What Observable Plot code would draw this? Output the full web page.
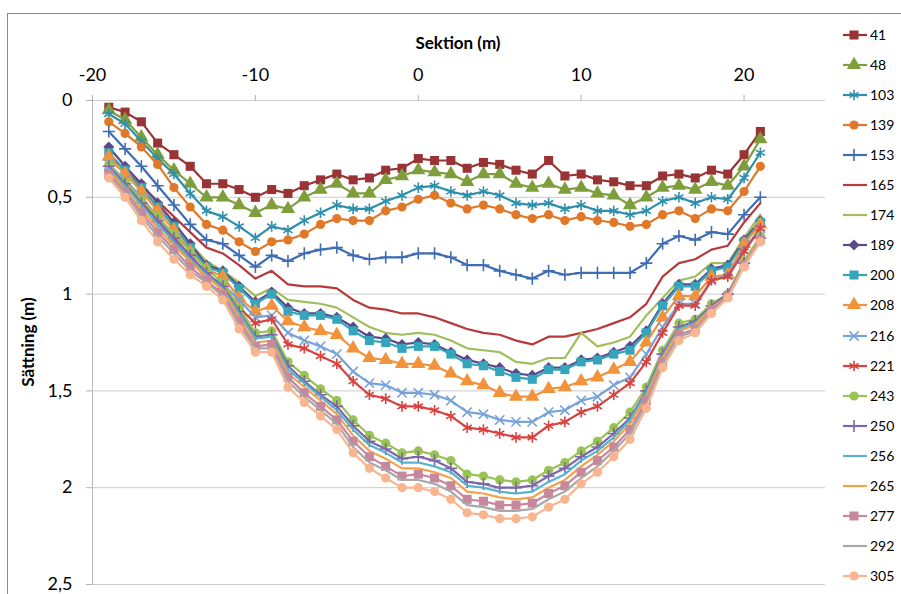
<!DOCTYPE html>
<html><head><meta charset="utf-8">
<script src="https://cdn.jsdelivr.net/npm/d3@7"></script>
<script src="https://cdn.jsdelivr.net/npm/@observablehq/plot@0.6"></script>
<style>
body{margin:0;background:#fff;font-family:Lato,"Open Sans",sans-serif;}
#wrap{position:relative;width:901px;height:594px;overflow:hidden;background:#fff;}
#frame{position:absolute;left:7px;top:13px;width:900px;height:600px;border:1px solid #8a8a8a;box-sizing:border-box;}
#plot{position:absolute;left:0;top:0;}
#xt{position:absolute;left:358px;top:33px;width:200px;height:20px;line-height:20px;text-align:center;font-weight:bold;font-size:17px;color:#000;}
#yt{position:absolute;left:-72px;top:332px;width:200px;height:20px;line-height:20px;text-align:center;font-weight:bold;font-size:17px;color:#000;transform:rotate(-90deg);}
.li{position:absolute;left:840px;height:18px;font-size:14px;line-height:18px;color:#000;}
.li svg{position:absolute;left:0;top:0;}
.li span{position:absolute;left:30px;top:0;}
</style></head>
<body>
<div id="wrap">
  <div id="frame"></div>
  <div id="plot"></div>
  <div id="xt">Sektion (m)</div>
  <div id="yt">Sättning (m)</div>
  <div id="legend"></div>
</div>
<script>
const sections = [-19,-18,-17,-16,-15,-14,-13,-12,-11,-10,-9,-8,-7,-6,-5,-4,-3,-2,-1,0,1,2,3,4,5,6,7,8,9,10,11,12,13,14,15,16,17,18,19,20,21];
const xTicks = [-20,-10,0,10,20];
const yTicks = [0,0.5,1,1.5,2,2.5];
const seriesNames = ["41","48","103","139","153","165","174","189","200","208","216","221","243","250","256","265","277","292","305"];

const s41  = [.035,.06,.11,.22,.28,.34,.43,.43,.46,.50,.46,.48, .44,.41,.38,.41,.40,.36,.35,.30,.31,.31,.35,.32,.33,.36,.38,.31,.39, .38,.41,.42,.44,.44,.39,.38,.40,.36,.38,.28,.16];
const s48  = [.05,.10,.19,.28,.36,.43,.50,.50,.54,.58,.54,.56, .50,.46,.43,.48,.48,.41,.39,.36,.37,.38,.42,.38,.38,.43,.45,.43,.46, .45,.48,.49,.54,.50,.45,.44,.46,.42,.44,.34,.20];
const s103 = [.07,.12,.21,.30,.38,.48,.57,.60,.65,.71,.65,.67, .62,.58,.54,.56,.56,.52,.49,.45,.44,.47,.49,.47,.49,.53,.54,.53,.56, .54,.57,.57,.59,.57,.52,.50,.53,.50,.51,.40,.27];
const s139 = [.11,.17,.24,.33,.45,.55,.64,.67,.73,.78,.73,.72, .69,.64,.61,.62,.62,.57,.55,.51,.49,.53,.56,.54,.56,.59,.61,.59,.62, .60,.62,.63,.65,.64,.59,.57,.61,.56,.57,.47,.34];
const s153 = [.16,.25,.34,.44,.54,.64,.72,.74,.80,.86,.80,.83, .79,.77,.76,.80,.82,.81,.81,.79,.79,.81,.85,.85,.88,.90,.92,.88,.90, .89,.89,.89,.89,.84,.74,.70,.72,.68,.69,.59,.50];
const s165 = [.28,.36,.44,.52,.60,.68,.76,.79,.85,.92,.88,.95, .96,.96,.97,1.03,1.07,1.08,1.10,1.10,1.12,1.15,1.18,1.20,1.21,1.24,1.26,1.22,1.22, 1.20,1.18,1.15,1.12,1.05,.91,.84,.82,.77,.75,.63,.53];
const s174 = [.30,.38,.46,.55,.64,.74,.83,.88,.94,1.01,.97,1.03, 1.04,1.05,1.07,1.12,1.17,1.20,1.21,1.20,1.21,1.24,1.28,1.29,1.30,1.35,1.36,1.33,1.33, 1.20,1.27,1.25,1.22,1.11,1.02,.93,.91,.84,.84,.71,.59];
const s189 = [.24,.34,.43,.53,.63,.74,.85,.88,.96,1.04,.99,1.07, 1.10,1.10,1.12,1.17,1.22,1.23,1.26,1.25,1.26,1.30,1.34,1.36,1.38,1.41,1.42,1.38,1.38, 1.34,1.33,1.30,1.27,1.19,1.05,.95,.95,.87,.85,.72,.62];
const s200 = [.27,.36,.45,.55,.65,.76,.86,.89,.97,1.05,1.00,1.09, 1.11,1.11,1.13,1.19,1.24,1.25,1.28,1.27,1.27,1.31,1.36,1.37,1.40,1.43,1.44,1.39,1.39, 1.35,1.34,1.31,1.29,1.20,1.06,.96,.96,.88,.86,.73,.63];
const s208 = [.29,.38,.47,.57,.67,.78,.87,.91,1.02,1.09,1.06,1.14, 1.17,1.19,1.21,1.28,1.33,1.34,1.36,1.36,1.37,1.41,1.45,1.47,1.51,1.53,1.53,1.49,1.48, 1.45,1.43,1.39,1.35,1.25,1.12,1.01,1.01,.91,.90,.74,.64];
const s216 = [.33,.41,.50,.60,.70,.81,.90,.95,1.03,1.12,1.11,1.20, 1.24,1.27,1.31,1.40,1.46,1.47,1.51,1.51,1.52,1.55,1.61,1.62,1.65,1.66,1.66,1.61,1.60, 1.55,1.53,1.47,1.43,1.31,1.17,1.05,1.05,.93,.90,.77,.66];
const s221 = [.35,.43,.52,.62,.72,.83,.91,.96,1.07,1.15,1.13,1.26, 1.28,1.32,1.36,1.45,1.52,1.54,1.58,1.58,1.60,1.63,1.69,1.70,1.72,1.74,1.74,1.68,1.66, 1.61,1.58,1.52,1.46,1.35,1.20,1.06,1.06,.93,.91,.78,.66];
const s243 = [.33,.42,.51,.60,.69,.78,.87,.94,1.07,1.20,1.19,1.35,1.42,1.49,1.55,1.65,1.73,1.77,1.82,1.81,1.83,1.86,1.93,1.94,1.96,1.97,1.96,1.91,1.87,1.81,1.76,1.69,1.61,1.48,1.29,1.15,1.13,1.05,1.00,.83,.70];
const s250 = [.34,.43,.53,.62,.71,.80,.89,.96,1.09,1.22,1.21,1.37,1.45,1.52,1.58,1.68,1.76,1.80,1.85,1.84,1.86,1.90,1.97,1.98,2.00,2.00,1.99,1.94,1.90,1.84,1.79,1.72,1.64,1.50,1.31,1.17,1.14,1.06,1.00,.84,.71];
const s256 = [.35,.44,.54,.64,.73,.82,.90,.97,1.10,1.23,1.22,1.39,1.46,1.53,1.60,1.70,1.78,1.82,1.87,1.87,1.89,1.92,1.99,2.00,2.02,2.03,2.02,1.97,1.93,1.86,1.81,1.74,1.65,1.51,1.32,1.18,1.15,1.07,1.01,.84,.71];
const s265 = [.36,.46,.56,.66,.75,.83,.91,.98,1.12,1.25,1.24,1.41,1.48,1.55,1.62,1.73,1.81,1.85,1.90,1.90,1.92,1.95,2.02,2.03,2.05,2.06,2.05,2.00,1.96,1.89,1.83,1.76,1.67,1.53,1.33,1.19,1.16,1.07,1.01,.84,.71];
const s277 = [.38,.47,.58,.68,.77,.86,.93,1.00,1.14,1.27,1.26,1.43,1.51,1.58,1.65,1.76,1.84,1.89,1.94,1.93,1.95,1.99,2.06,2.07,2.09,2.09,2.08,2.03,1.99,1.92,1.86,1.79,1.70,1.55,1.35,1.21,1.18,1.08,1.01,.85,.72];
const s292 = [.39,.48,.60,.70,.79,.88,.94,1.01,1.16,1.28,1.28,1.45,1.53,1.60,1.67,1.79,1.87,1.91,1.96,1.96,1.98,2.02,2.09,2.10,2.12,2.12,2.11,2.06,2.02,1.95,1.89,1.81,1.72,1.57,1.36,1.22,1.19,1.09,1.02,.85,.72];
const s305 = [.40,.50,.62,.73,.82,.90,.96,1.03,1.18,1.30,1.30,1.48,1.56,1.63,1.70,1.82,1.90,1.95,2.00,2.00,2.02,2.06,2.13,2.14,2.16,2.16,2.15,2.10,2.06,1.98,1.92,1.84,1.75,1.59,1.38,1.24,1.20,1.10,1.02,.86,.73];

const seriesValues = [s41,s48,s103,s139,s153,s165,s174,s189,s200,s208,s216,s221,s243,s250,s256,s265,s277,s292,s305];
const seriesColors = ["#993335","#7E9E3C","#2F90AC","#E0782A","#3E6DB4","#B63A3A","#A0BE5C","#5A4A8A","#35A5BC","#F2923A","#78A2DA","#D8423F","#99C353","#7D66AA","#52B5CC","#F7A04A","#C7889E","#A8A8A8","#F9B590"];
const seriesSymbols = ["square","triangle","asterisk","circle","plus",null,null,"diamond2","square","triangle","times","asterisk","circle","plus",null,null,"square",null,"circle"];
const symbolR = {square:5.1, triangle:5.3, asterisk:5, circle:4.6, plus:4, diamond2:5, times:4.3};
const strokeSymbols = new Set(["asterisk","plus","times"]);

const marks = [];
marks.push(Plot.ruleY(yTicks, {stroke:"#cccccc", strokeWidth:1}));
marks.push(Plot.ruleX([-20], {stroke:"#bdbdbd", strokeWidth:1}));
marks.push(Plot.axisX({anchor:"top", ticks:xTicks, tickSize:6, tickPadding:14, stroke:"#b0b0b0", label:null,
  tickFormat: d => String(d)}));
marks.push(Plot.axisY({anchor:"left", ticks:yTicks, tickSize:6, tickPadding:14, stroke:"#b0b0b0", label:null,
  tickFormat: d => String(d).replace(".", ",")}));

seriesNames.forEach((name, i) => {
  const rows = sections.map((x, j) => ({x, y: seriesValues[i][j], name}));
  const color = seriesColors[i];
  marks.push(Plot.line(rows, {x:"x", y:"y", stroke: color, strokeWidth: 2.2}));
  const sym = seriesSymbols[i];
  if (sym) {
    if (strokeSymbols.has(sym)) {
      marks.push(Plot.dot(rows, {x:"x", y:"y", symbol: sym, r: symbolR[sym], stroke: color, strokeWidth: 1.6}));
    } else {
      marks.push(Plot.dot(rows, {x:"x", y:"y", symbol: sym, r: symbolR[sym], fill: color, stroke: "none"}));
    }
  }
});

const chart = Plot.plot({
  width: 901, height: 594,
  marginTop: 100, marginLeft: 92, marginRight: 76, marginBottom: 10,
  x: {domain: [-20, 25]},
  y: {domain: [0, 2.5], reverse: true},
  style: {fontFamily: "Lato, 'Open Sans', sans-serif", fontSize: "18px", background: "transparent", color: "#000"},
  marks
});
document.getElementById("plot").appendChild(chart);

// legend
const d3Types = {square: d3.symbolSquare, triangle: d3.symbolTriangle, asterisk: d3.symbolAsterisk, circle: d3.symbolCircle,
  plus: d3.symbolPlus, diamond2: d3.symbolDiamond2, times: d3.symbolTimes};
const legend = document.getElementById("legend");
seriesNames.forEach((name, i) => {
  const cy = 34.5 + i * 30.1;
  const div = document.createElement("div");
  div.className = "li";
  div.style.top = (cy - 9) + "px";
  const color = seriesColors[i];
  const sym = seriesSymbols[i];
  let symSvg = "";
  if (sym) {
    const r = symbolR[sym];
    const path = d3.symbol().type(d3Types[sym]).size(Math.PI * r * r)();
    symSvg = strokeSymbols.has(sym)
      ? `<path d="${path}" transform="translate(14,9)" fill="none" stroke="${color}" stroke-width="1.6"/>`
      : `<path d="${path}" transform="translate(14,9)" fill="${color}"/>`;
  }
  div.innerHTML = `<svg width="30" height="18"><line x1="3" x2="27" y1="9" y2="9" stroke="${color}" stroke-width="2.2"/>${symSvg}</svg><span>${name}</span>`;
  legend.appendChild(div);
});
</script>
</body></html>
